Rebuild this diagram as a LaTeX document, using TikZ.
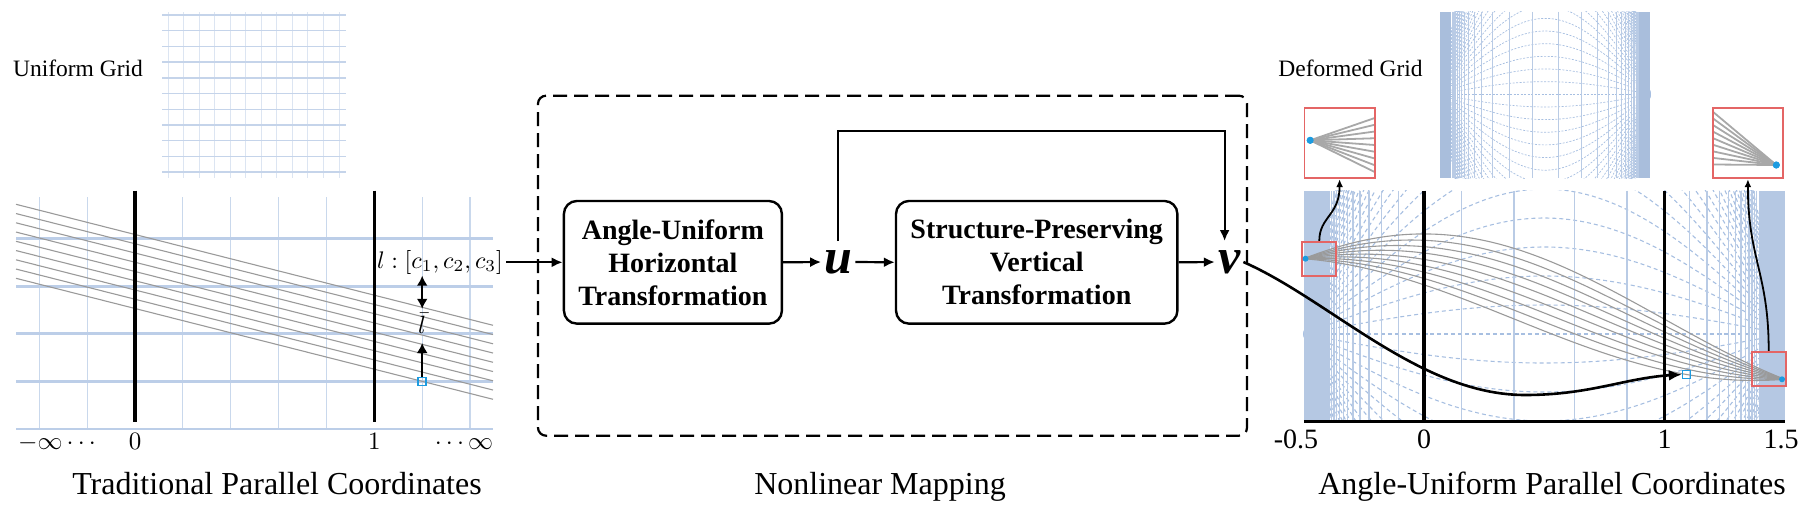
\documentclass[tikz,border=0pt]{standalone}
\usepackage{graphicx}
\usepackage[no-math]{fontspec}
\setmainfont{Liberation Serif}
\usetikzlibrary{arrows.meta}
\definecolor{hgrid}{HTML}{BCCEE8}
\definecolor{vgridc}{HTML}{B9CBE5}
\definecolor{vgridl}{HTML}{C9D8EC}
\definecolor{thh}{HTML}{C5D4EA}
\definecolor{thv}{HTML}{DCE5F2}
\definecolor{bandc}{HTML}{B5C8E3}
\definecolor{bandt}{HTML}{A9BEDC}
\definecolor{dgridc}{HTML}{A7BFE1}
\definecolor{cyanq}{HTML}{1C9BE0}
\definecolor{redq}{HTML}{E46565}
\definecolor{grayl}{HTML}{9A9A9A}
\definecolor{grayi}{HTML}{A8A8A8}
\newcommand{\bigmath}[2]{\scalebox{#1}{\fontsize{10}{12}\selectfont$#2$}}
\begin{document}
\begin{tikzpicture}[x=1pt,y=-1pt,
  box/.style={draw, line width=2.4pt, rounded corners=13pt, minimum height=122.7pt, align=center, inner sep=0pt, font=\fontsize{28}{33}\selectfont\bfseries},
  arr/.style={line width=2.2pt, -{Latex[length=11pt,width=10pt]}},
  bigarr/.style={line width=2.6pt, -{Latex[length=13pt,width=11pt]}},
  sarr/.style={line width=1.8pt, -{Latex[length=8pt,width=7pt]}},
  uv/.style={inner xsep=3pt, inner ysep=9pt, font=\fontsize{50}{56}\selectfont\bfseries\itshape},
  lbl/.style={anchor=base, inner sep=0pt, font=\fontsize{32}{38}\selectfont},
  ttl/.style={anchor=base, inner sep=0pt, font=\fontsize{23.5}{28}\selectfont},
  mth/.style={anchor=base, inner sep=0pt},
  tick/.style={anchor=base, inner sep=0pt, font=\fontsize{28}{33}\selectfont},
  sq/.style={draw=cyanq, line width=1.6pt, minimum size=8pt, inner sep=0pt},
  redbox/.style={draw=redq, line width=1.8pt, inner sep=0pt},
  dot/.style={circle, fill=cyanq, inner sep=0pt, minimum size=6pt},
  dashbox/.style={draw, line width=2.2pt, rounded corners=8pt, dash pattern=on 14pt off 7pt},
  gl/.style={grayl, line width=1.1pt},
  gli/.style={grayi, line width=1.8pt},
  vg/.style={vgridc, line width=1.3pt},
  vgl/.style={vgridl, line width=1.2pt},
  hg/.style={hgrid, line width=3pt},
  dg/.style={dgridc, line width=1.1pt, dash pattern=on 4pt off 3pt},
  dgs/.style={dgridc, line width=0.7pt, dash pattern=on 2pt off 1.5pt},
  axis/.style={black, line width=3.5pt},
  tipb/.style={line width=2.2pt}
]
\useasboundingbox (0,0) rectangle (1810,504);

% ---------------- Uniform grid thumbnail ----------------
\node[ttl] (ug) at (78,76) {Uniform Grid};
\foreach \j in {0,...,11} \draw[thv, line width=1pt] ({168+15.55*\j},12) -- ({168+15.55*\j},178);
\foreach \i in {0,...,10} \draw[thh, line width=1.4pt] (162,{15+15.7*\i}) -- (346,{15+15.7*\i});

% ---------------- Left panel ----------------
\foreach \m in {0,1,3,4,5,6,8,9} \draw[vgl] ({135+47.86*(\m-2)},197.3) -- ({135+47.86*(\m-2)},428.7);
\foreach \j in {0,...,3} \draw[hg] (16,{238.3+47.7*\j}) -- (493,{238.3+47.7*\j});
\draw[hgrid, line width=1.6pt] (16,428.7) -- (493,428.7);
\foreach \i in {0,...,8} \draw[gl] (16,{204.3+9.25*\i}) -- (493,{325.3+9.25*\i});
\draw[axis] (135,190.7) -- (135,422.3);
\draw[axis] (374.3,190.7) -- (374.3,422.3);
\node[sq] (sqL) at (422.2,381.4) {};
\node[mth, anchor=center] (lbar) at (422.2,323.4) {\bigmath{2.5}{\bar{l}}};
\node[mth, anchor=center, inner sep=3pt] (lab) at (440,262.3) {\bigmath{2.4}{l:[c_1,c_2,c_3]}};
\coordinate (dA) at (422.2,275.7);
\draw[tipb, {Latex[length=10pt,width=11pt]}-{Latex[length=10pt,width=11pt]}, shorten >=4pt] (dA) -- (lbar.north);
\draw[tipb, -{Latex[length=10pt,width=11pt]}, shorten >=9pt] (sqL.north) -- (lbar.south);
\node[mth] (minf) at (57,449) {\bigmath{2.5}{-\infty\cdots}};
\node[mth] (l0) at (135,449) {\bigmath{2.5}{0}};
\node[mth] (l1) at (374.3,449) {\bigmath{2.5}{1}};
\node[mth] (pinf) at (464,449) {\bigmath{2.5}{\cdots\infty}};
\node[lbl] (t1) at (277,494) {Traditional Parallel Coordinates};

% ---------------- Middle ----------------
\node[dashbox, minimum width=709pt, minimum height=340pt] (nm) at (892.5,265.7) {};
\node[box, minimum width=218pt] (b1) at (672.9,262.3) {Angle-Uniform\\Horizontal\\Transformation};
\node[box, minimum width=281.4pt] (b2) at (1036.7,262.3) {Structure-Preserving\\Vertical\\Transformation};
\node[uv] (u) at (838.3,262) {u};
\node[uv] (v) at (1229.1,262) {v};
\draw[arr] (lab.east) -- (b1.west);
\draw[arr] (b1.east) -- (u.west);
\draw[arr] (u.east) -- (b2.west);
\draw[arr] (b2.east) -- (v.west);
\draw[arr] (u.north) -- ++(0,-110.3) -| ([xshift=-4.5pt]v.north);
\node[lbl] (t2) at (880,494) {Nonlinear Mapping};

% ---------------- Right panel: deformed grid thumbnail ----------------
\node[ttl] (dgt) at (1350.5,76) {Deformed Grid};
\begin{scope}
\clip (1440,11.7) rectangle (1650.4,178.3);
\foreach \n in {-30,...,30} \draw[dgs] plot[domain=-90:90, samples=91] ({1492.6+105.2*(0.5+\x/90)},{94.3+12.65*(\n)*cos(\x)});
\foreach \k in {-11,...,16} {
  \pgfmathsetmacro\xx{1492.6+105.2*(0.5+atan(2*(0.2*\k-0.5))/90)}
  \draw[vgridc, line width=0.9pt] (\xx,11.7) -- (\xx,178.3);
}
\fill[bandt] (1440,11.7) rectangle (1451.4,178.3);
\fill[bandt] (1639,11.7) rectangle (1650.4,178.3);
\end{scope}

% ---------------- Right panel: main plot ----------------
\begin{scope}
\clip (1303.75,190.7) rectangle (1784.75,421.7);
\foreach \n in {-24,...,24} \draw[dg] plot[domain=-90:90, samples=91] ({1424+240.5*(0.5+\x/90)},{334+29*(\n)*cos(\x)});
\foreach \k in {-11,...,16} {
  \pgfmathsetmacro\xx{1424+240.5*(0.5+atan(2*(0.2*\k-0.5))/90)}
  \draw[vg] (\xx,190.7) -- (\xx,421.7);
}
\fill[bandc] (1303.75,190.7) rectangle (1329.9,421.7);
\fill[bandc] (1758.6,190.7) rectangle (1784.75,421.7);
\end{scope}
\foreach \i in {0,...,8} \draw[gl] plot[domain=-90:90, samples=121] ({1424+240.5*(0.5+\x/90)},{319+(-60+9*\i)*cos(\x)+60.3*sin(\x)});
\draw[axis] (1424,190.7) -- (1424,421.7);
\draw[axis] (1664.5,190.7) -- (1664.5,421.7);
\draw[axis] (1303.75,421.7) -- (1784.75,421.7);
\node[redbox, minimum width=34pt, minimum height=34.3pt] (rb1) at (1319.3,258.85) {};
\node[redbox, minimum width=34pt, minimum height=34.3pt] (rb2) at (1768.7,368.85) {};
\node[dot] (p1) at (1305.5,258.7) {};
\node[dot] (p2) at (1782,379.3) {};
\node[sq] (sqR) at (1686.6,374.5) {};

% insets
\node[dot, minimum size=7pt] (d1) at (1310.2,140.3) {};
\foreach \i in {0,...,8} \draw[gli] (d1.center) -- (1374.7,{118+6.75*\i});
\node[redbox, minimum width=70.2pt, minimum height=70.6pt] (in1) at (1339.6,143) {};
\node[dot, minimum size=7pt] (d2) at (1776.3,165) {};
\foreach \i in {0,...,8} \draw[gli] (d2.center) -- (1712.8,{111.7+6.6*\i});
\node[redbox, minimum width=70.2pt, minimum height=70.6pt] (in2) at (1747.9,143) {};
\node[dot, minimum size=7pt] at (1310.2,140.3) {};
\node[dot, minimum size=7pt] at (1776.3,165) {};

\draw[sarr] (rb1.north) .. controls +(0,-24) and +(0,36) .. (in1.south);
\draw[sarr] (rb2.north) .. controls +(0,-78) and +(0,80) .. (in2.south);

\draw[bigarr] (v.east) .. controls (1330,300) and (1420,395) .. (1525,395) .. controls (1590,395) and (1625,378) .. (sqR.west);

\node[tick] (r0) at (1296,448) {-0.5};
\node[tick] (r1) at (1424,448) {0};
\node[tick] (r2) at (1664.5,448) {1};
\node[tick] (r3) at (1781,448) {1.5};
\node[lbl] (t3) at (1552,494) {Angle-Uniform Parallel Coordinates};
\end{tikzpicture}
\end{document}
